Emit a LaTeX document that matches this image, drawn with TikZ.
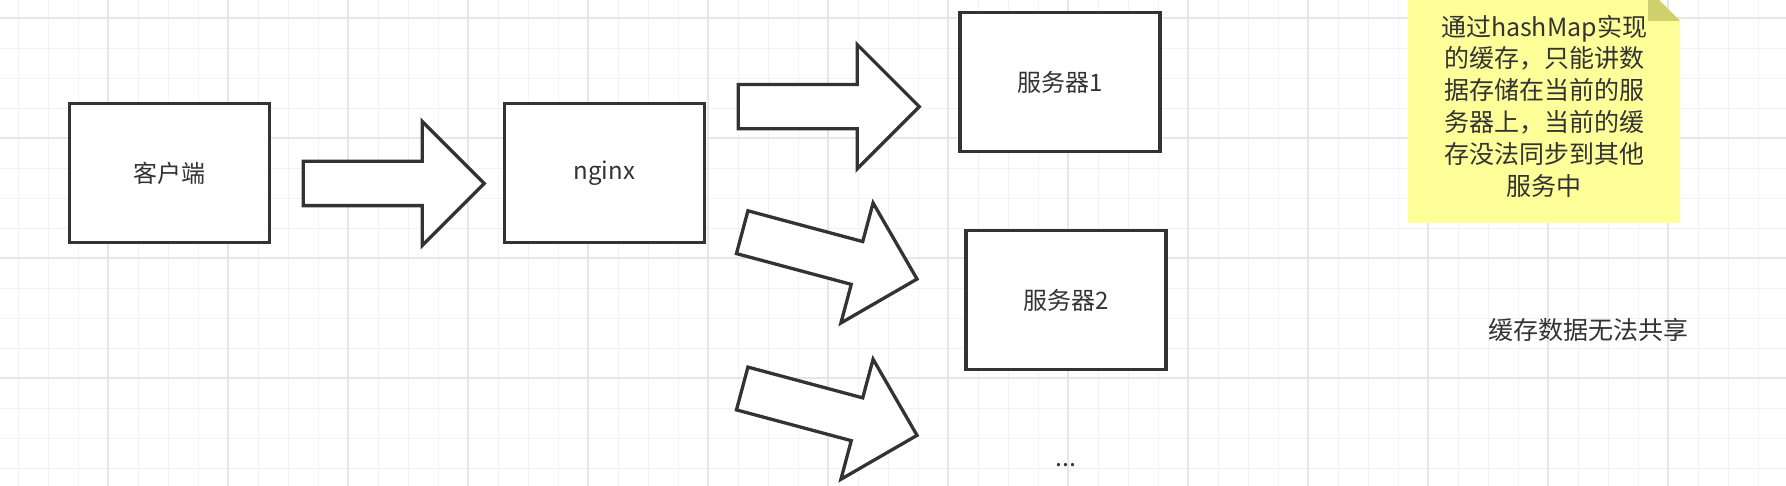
\documentclass[tikz,border=0pt]{standalone}
\usepackage{fontspec}
\setmainfont{Noto Sans CJK SC}
\usetikzlibrary{positioning, calc, shapes.arrows}
\definecolor{ink}{HTML}{333333}
\definecolor{gridminor}{HTML}{F2F2F2}
\definecolor{gridmajor}{HTML}{E6E6E6}
\definecolor{notefill}{HTML}{FFFF99}
\definecolor{notefold}{HTML}{CFCF6E}
\tikzset{block/.style={draw=ink, line width=3.3pt, fill=white, minimum width=200pt, minimum height=139pt, inner sep=0pt, outer sep=0pt, text=ink, font=\fontsize{24}{29}\selectfont},
bigarrow/.style={single arrow, draw=ink, line width=3.3pt, fill=white, inner xsep=0pt, inner ysep=20.5pt, single arrow head extend=40pt, minimum height=181pt, outer sep=0pt},
remark/.style={text=ink, font=\fontsize{25}{31.8}\selectfont, align=center, inner sep=0pt}
}

\begin{document}
\begin{tikzpicture}[x=1pt, y=-1pt]
\useasboundingbox (0,0) rectangle (1786,486);
\clip (0,0) rectangle (1786,486);
% grid
\foreach \k in {0,...,59} \draw[gridminor, line width=1.5pt] ({18.3+30*\k},0) -- ({18.3+30*\k},486);
\foreach \k in {0,...,15} \draw[gridminor, line width=1.5pt] (0,{18.3+30*\k}) -- (1786,{18.3+30*\k});
\foreach \k in {0,...,14} \draw[gridmajor, line width=2pt] ({108.3+120*\k},0) -- ({108.3+120*\k},486);
\foreach \k in {0,...,3} \draw[gridmajor, line width=2pt] (0,{18.3+120*\k}) -- (1786,{18.3+120*\k});

\node[block] (client) at (169.3,173) {客户端};
\node[block, right=235pt of client] (nginx) {nginx};
\node[block] (server1) at (1060,82) {服务器1};
\node[block, below=79pt of server1, xshift=6pt] (server2) {服务器2};
\node[remark, anchor=base] (more) at (1066,466) {...};

\node[bigarrow, anchor=tail] (a1) at (303.3,183.5) {};
\node[bigarrow, anchor=tail] (a2) at (738.3,106.7) {};
\node[bigarrow, anchor=tail, rotate=-15] (a3) at (742.2,232.2) {};
\node[bigarrow, anchor=tail, rotate=-15] (a4) at (742.2,388.5) {};

% note
\fill[notefill] (1408,-11) -- (1648,-11) -- (1680,21) -- (1680,223) -- (1408,223) -- cycle;
\fill[notefold] (1648,-11) -- (1680,21) -- (1648,21) -- cycle;
\node[remark] (note) at (1544,106) {通过hashMap实现\\的缓存，只能讲数\\据存储在当前的服\\务器上，当前的缓\\存没法同步到其他\\服务中};

\node[remark] (sharing) at (1588,330) {缓存数据无法共享};
\end{tikzpicture}
\end{document}
